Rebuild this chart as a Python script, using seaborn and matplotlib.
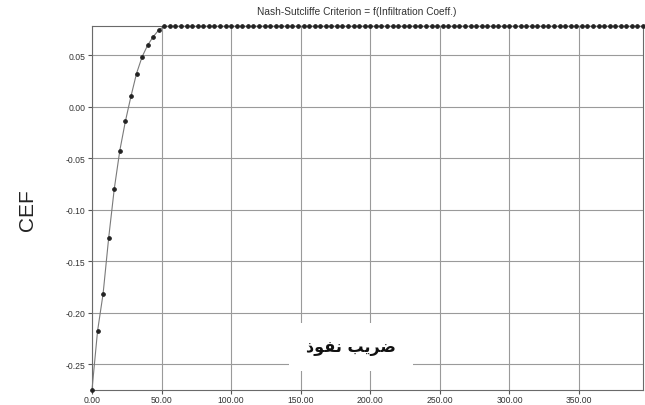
import numpy as np
import pandas as pd
import matplotlib
matplotlib.use("Agg")
import matplotlib.pyplot as plt
import seaborn as sns
from matplotlib.ticker import FormatStrFormatter, MultipleLocator

# Infiltration coefficient (step 4) and Nash-Sutcliffe efficiency
rising_coeff = [0, 4, 8, 12, 16, 20, 24, 28, 32, 36, 40, 44, 48]
rising_cef = [-0.2752, -0.2180, -0.1816, -0.1274, -0.0800, -0.0426, -0.0142,
              0.0100, 0.0322, 0.0484, 0.0597, 0.0680, 0.0745]
plateau_coeff = list(range(52, 397, 4))
plateau_cef = [0.0781] * len(plateau_coeff)

coeff = rising_coeff + plateau_coeff
cef = rising_cef + plateau_cef

title_text = "Nash-Sutcliffe Criterion = f(Infiltration Coeff.)"
ylabel_text = "CEF"
# "ضریب نفوذ" written with Arabic presentation forms in visual order
xlabel_text = "\uFEAB\uFEEE\uFED4\uFEE7 \uFE90\uFEF3\uFEAE\uFEBF"

df = pd.DataFrame({"coeff": coeff, "cef": cef})

sns.set_style("white")
plt.rcParams["font.family"] = ["Liberation Sans", "DejaVu Sans"]

fig = plt.figure(figsize=(6.45, 4.06), dpi=100)
ax = fig.add_axes([0.1426, 0.0369, 0.997 - 0.1426, 0.9328 - 0.0369])

sns.lineplot(data=df, x="coeff", y="cef", ax=ax, color="#7a7a7a", linewidth=0.8,
             marker="o", markersize=2.6, markerfacecolor="#222222",
             markeredgecolor="#222222", clip_on=False, zorder=5)

ax.set_xlim(0, 396)
ax.set_ylim(min(cef), max(cef))
ax.xaxis.set_major_locator(MultipleLocator(50))
ax.yaxis.set_major_locator(MultipleLocator(0.05))
ax.xaxis.set_major_formatter(FormatStrFormatter("%.2f"))
ax.yaxis.set_major_formatter(FormatStrFormatter("%.2f"))

ax.grid(True, color="#9a9a9a", linewidth=0.8)
ax.set_axisbelow(True)
for s in ax.spines.values():
    s.set_color("#6a6a6a")
    s.set_linewidth(0.8)

ax.tick_params(axis="both", which="major", direction="out", length=3, width=0.8,
               color="#555555", labelsize=6.2, labelcolor="#333333", pad=1.5,
               bottom=True, left=True)
ax.tick_params(axis="x", pad=0.8)
ax.set_xlabel("")
ax.set_ylabel("")

fig.text(0.553, 1 - 12 / 406, title_text, ha="center", va="center",
         fontsize=7.3, color="#333333")
fig.text(0.043, 1 - 210 / 406, ylabel_text, ha="center", va="center",
         rotation=90, fontsize=15, color="#222222")

ax.text(186, -0.2335, xlabel_text, ha="center", va="center", fontsize=11.5,
        fontweight="bold", family=["DejaVu Sans"], color="#111111", zorder=6,
        bbox=dict(boxstyle="square,pad=1.05", facecolor="white", edgecolor="none"))

fig.savefig("out.png", dpi=100)
